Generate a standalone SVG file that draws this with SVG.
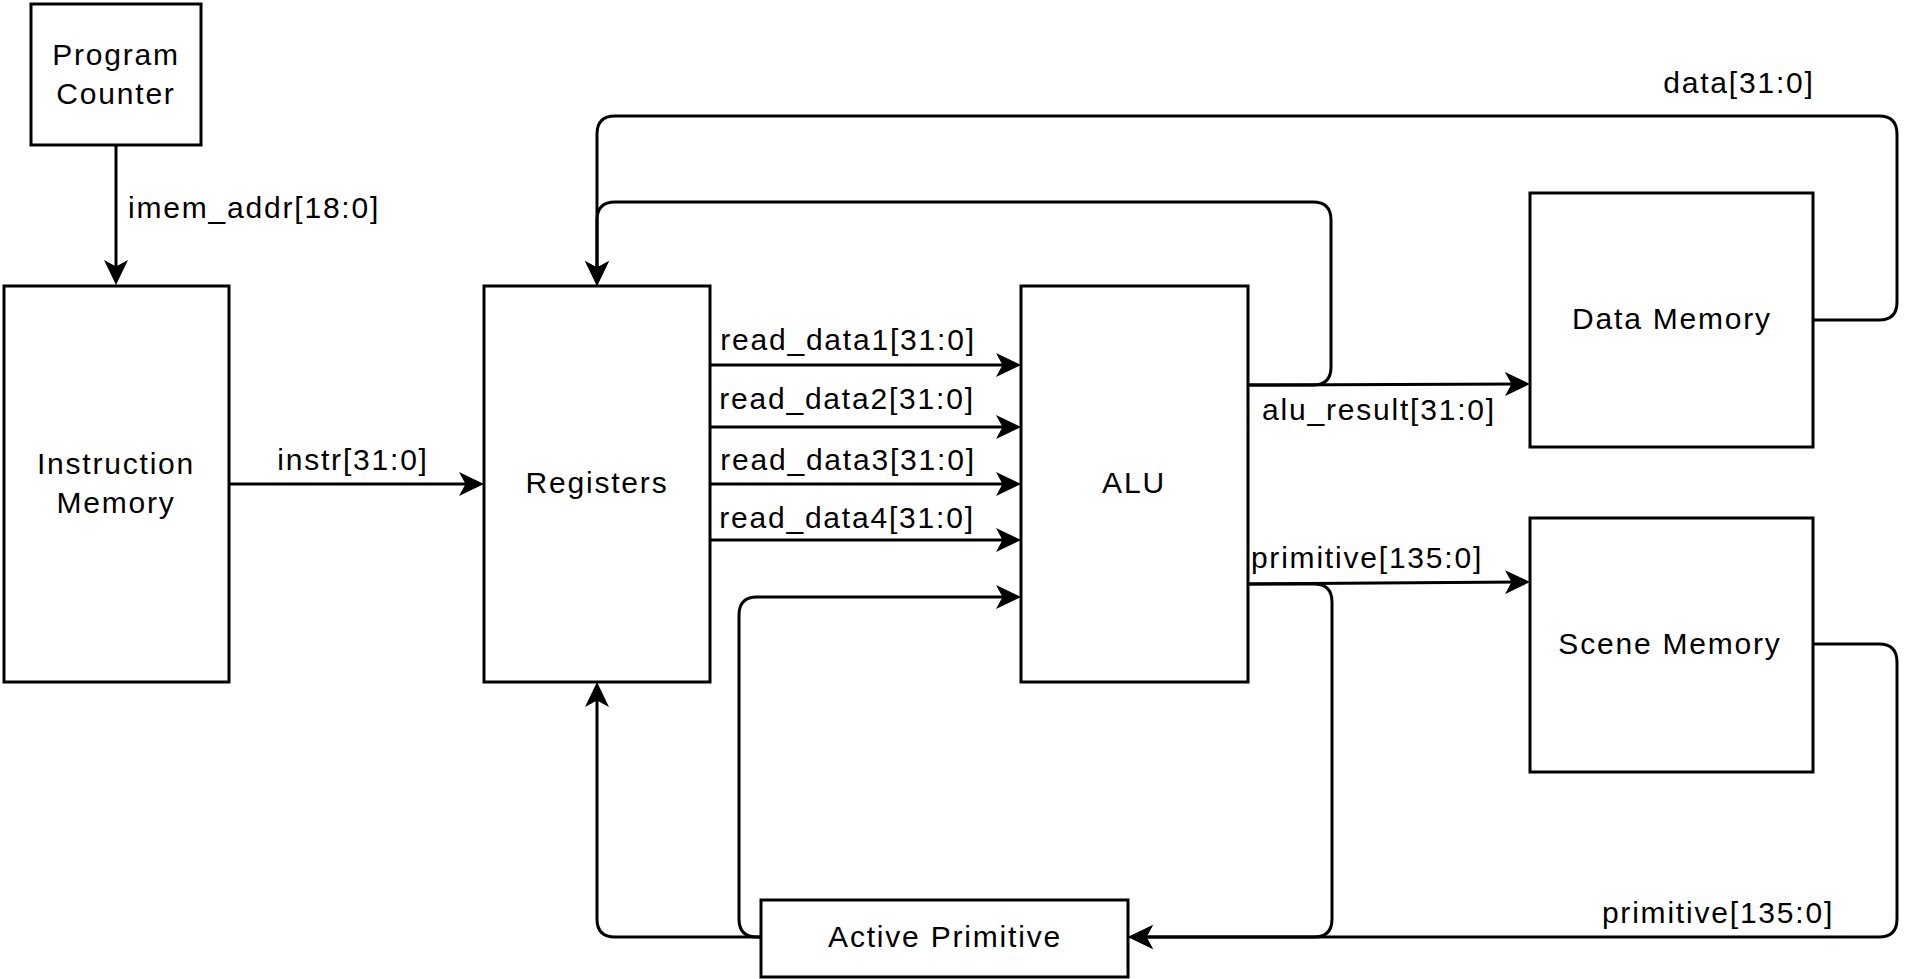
<svg xmlns="http://www.w3.org/2000/svg" width="1922" height="979" viewBox="0 0 1922 979">
<style>
.box{fill:#fff;stroke:#000;stroke-width:3}
.wire{fill:none;stroke:#000;stroke-width:3}
text{font-family:"Liberation Sans",Arial,Helvetica,sans-serif;font-size:30px;letter-spacing:1.8px;fill:#000}
.c{text-anchor:middle}
.s{text-anchor:start}
</style>
<defs>
<marker id="arr" markerUnits="userSpaceOnUse" viewBox="0 0 25 24" refX="17" refY="12" markerWidth="25" markerHeight="24" orient="auto">
<path d="M0,0 L25,12 L0,24 L6.5,12 Z" fill="#000"/>
</marker>
</defs>
<rect width="1922" height="979" fill="#fff"/>
<g id="connectors">
<path class="wire" d="M116,145 L116,277" marker-end="url(#arr)"/>
<path class="wire" d="M229,484 L476,484" marker-end="url(#arr)"/>
<path class="wire" d="M710,365 L1013,365" marker-end="url(#arr)"/>
<path class="wire" d="M710,427 L1013,427" marker-end="url(#arr)"/>
<path class="wire" d="M710,484 L1013,484" marker-end="url(#arr)"/>
<path class="wire" d="M710,540 L1013,540" marker-end="url(#arr)"/>
<path class="wire" d="M761,937 L757,937 Q739,937 739,919 L739,615 Q739,597 757,597 L1013,597" marker-end="url(#arr)"/>
<path class="wire" d="M761,937 L615,937 Q597,937 597,919 L597,690" marker-end="url(#arr)"/>
<path class="wire" d="M1248,385 L1313,385 Q1331,385 1331,367 L1331,220 Q1331,202 1313,202 L615,202 Q597,202 597,220 L597,278" marker-end="url(#arr)"/>
<path class="wire" d="M1813,320 L1879,320 Q1897,320 1897,302 L1897,134 Q1897,116 1879,116 L615,116 Q597,116 597,134 L597,278" marker-end="url(#arr)"/>
<path class="wire" d="M1248,385 L1522,384" marker-end="url(#arr)"/>
<path class="wire" d="M1248,584 L1522,582" marker-end="url(#arr)"/>
<path class="wire" d="M1248,584 L1314,584 Q1332,584 1332,602 L1332,919 Q1332,937 1314,937 L1136,937" marker-end="url(#arr)"/>
<path class="wire" d="M1813,644 L1879,644 Q1897,644 1897,662 L1897,919 Q1897,937 1879,937 L1136,937" marker-end="url(#arr)"/>
</g>
<g id="labels">
<text class="s" x="128" y="218">imem_addr[18:0]</text>
<text class="c" x="353" y="470">instr[31:0]</text>
<text class="c" x="848" y="350">read_data1[31:0]</text>
<text class="c" x="847" y="409">read_data2[31:0]</text>
<text class="c" x="848" y="470">read_data3[31:0]</text>
<text class="c" x="847" y="528">read_data4[31:0]</text>
<text class="c" x="1379" y="420">alu_result[31:0]</text>
<text class="c" x="1367" y="568">primitive[135:0]</text>
<text class="c" x="1739" y="93">data[31:0]</text>
<text class="c" x="1718" y="923">primitive[135:0]</text>
</g>
<g id="program-counter">
<rect class="box" x="31" y="4" width="170" height="141"/>
<text class="c" x="116" y="65">Program</text>
<text class="c" x="116" y="104">Counter</text>
</g>
<g id="instruction-memory">
<rect class="box" x="4" y="286" width="225" height="396"/>
<text class="c" x="116" y="474">Instruction</text>
<text class="c" x="116" y="513">Memory</text>
</g>
<g id="registers">
<rect class="box" x="484" y="286" width="226" height="396"/>
<text class="c" x="597" y="493">Registers</text>
</g>
<g id="alu">
<rect class="box" x="1021" y="286" width="227" height="396"/>
<text class="c" x="1134" y="493">ALU</text>
</g>
<g id="data-memory">
<rect class="box" x="1530" y="193" width="283" height="254"/>
<text class="c" x="1672" y="329">Data Memory</text>
</g>
<g id="scene-memory">
<rect class="box" x="1530" y="518" width="283" height="254"/>
<text class="c" x="1670" y="654">Scene Memory</text>
</g>
<g id="active-primitive">
<rect class="box" x="761" y="900" width="367" height="77"/>
<text class="c" x="945" y="947">Active Primitive</text>
</g>
</svg>
